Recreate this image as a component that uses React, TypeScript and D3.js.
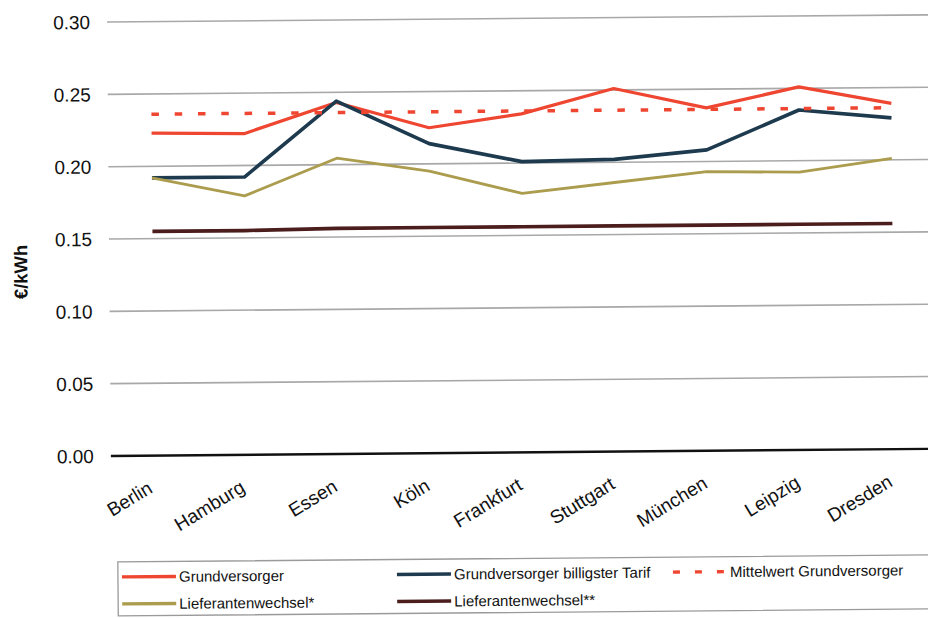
import React from "react";
import * as d3 from "d3";

// Strompreise je Stadt in €/kWh
const cities = ["Berlin", "Hamburg", "Essen", "Köln", "Frankfurt", "Stuttgart", "München", "Leipzig", "Dresden"];
const grundversorger = [0.223, 0.222, 0.243, 0.225, 0.234, 0.251, 0.237, 0.251, 0.239];
const billigsterTarif = [0.192, 0.192, 0.244, 0.214, 0.201, 0.202, 0.208, 0.235, 0.229];
const mittelwert = [0.236, 0.236, 0.236, 0.236, 0.236, 0.236, 0.236, 0.236, 0.236];
const wechselEinStern = [0.192, 0.179, 0.2045, 0.195, 0.179, 0.186, 0.193, 0.192, 0.201];
const wechselZweiStern = [0.155, 0.155, 0.156, 0.156, 0.156, 0.156, 0.156, 0.156, 0.156];

const yTicks = [0, 0.05, 0.1, 0.15, 0.2, 0.25, 0.3];
const yTickLabels = ["0.00", "0.05", "0.10", "0.15", "0.20", "0.25", "0.30"];

const FONT = "'Liberation Sans', Arial, Helvetica, sans-serif";

const series = [
  { name: "Grundversorger", values: grundversorger, color: "#ee4630", width: 3.2, dash: null },
  { name: "Grundversorger billigster Tarif", values: billigsterTarif, color: "#1d3a4e", width: 3.6, dash: null },
  { name: "Lieferantenwechsel*", values: wechselEinStern, color: "#ab9c4e", width: 2.8, dash: null },
  { name: "Lieferantenwechsel**", values: wechselZweiStern, color: "#4b1d1d", width: 3.6, dash: null },
  { name: "Mittelwert Grundversorger", values: mittelwert, color: "#ee4630", width: 3.5, dash: "7.5,15.8" },
];

const legendItems = [
  { name: "Grundversorger", row: 0, x: 119, color: "#ee4630", dash: null },
  { name: "Grundversorger billigster Tarif", row: 0, x: 394, color: "#1d3a4e", dash: null },
  { name: "Mittelwert Grundversorger", row: 0, x: 670, color: "#ee4630", dash: "7,15" },
  { name: "Lieferantenwechsel*", row: 1, x: 119, color: "#ab9c4e", dash: null },
  { name: "Lieferantenwechsel**", row: 1, x: 394, color: "#4b1d1d", dash: null },
];

export default function App() {
  const W = 928;
  const H = 618;

  const x = d3.scalePoint<string>().domain(cities).range([152.5, 892.5]);
  const y = d3.scaleLinear().domain([0, 0.3]).range([456, 22]);

  const gridLeft = 109;
  const gridRight = 960;

  const line = d3
    .line<number>()
    .x((_, i) => x(cities[i]) as number)
    .y((v) => y(v));

  return (
    <svg
      width={W}
      height={H}
      viewBox={`0 0 ${W} ${H}`}
      style={{ position: "absolute", left: 0, top: 0, background: "#fff" }}
    >
      <rect x={0} y={0} width={W} height={H} fill="#fff" />
      <g transform="rotate(-0.5 110 240)">
        {/* Gitterlinien und y-Achse */}
        {yTicks.map((t, i) => (
          <g key={t}>
            <line
              x1={gridLeft}
              x2={gridRight}
              y1={y(t)}
              y2={y(t)}
              stroke={t === 0 ? "#111" : "#a8a8a8"}
              strokeWidth={t === 0 ? 2.4 : 1.6}
            />
            <text
              x={92}
              y={y(t)}
              dy="0.36em"
              textAnchor="end"
              fontFamily={FONT}
              fontSize={19}
              fill="#111"
            >
              {yTickLabels[i]}
            </text>
          </g>
        ))}

        <text
          transform={`translate(27 ${(y(0.15) + y(0.1)) / 2 - 4}) rotate(-90)`}
          textAnchor="middle"
          fontFamily={FONT}
          fontWeight="bold"
          fontSize={18.5}
          fill="#111"
        >
          €/kWh
        </text>

        {/* Datenreihen */}
        {series.map((s) => (
          <path
            key={s.name}
            d={line(s.values) as string}
            fill="none"
            stroke={s.color}
            strokeWidth={s.width}
            strokeDasharray={s.dash ?? undefined}
            strokeLinejoin="round"
          />
        ))}

        {/* Städte */}
        {cities.map((c) => {
          const cx = (x(c) as number) - 1;
          const cy = 492;
          return (
            <text
              key={c}
              x={cx}
              y={cy}
              transform={`rotate(-31 ${cx} ${cy})`}
              textAnchor="end"
              fontFamily={FONT}
              fontSize={19}
              fill="#111"
            >
              {c}
            </text>
          );
        })}

        {/* Legende */}
        <rect x={115} y={562} width={900} height={54} fill="none" stroke="#9a9a9a" strokeWidth={1.3} />
        {legendItems.map((it) => {
          const cy = it.row === 0 ? 577 : 604;
          return (
            <g key={it.name}>
              <line
                x1={it.x}
                x2={it.x + 54}
                y1={cy}
                y2={cy}
                stroke={it.color}
                strokeWidth={3.4}
                strokeDasharray={it.dash ?? undefined}
              />
              <text
                x={it.x + 57}
                y={cy}
                dy="0.36em"
                fontFamily={FONT}
                fontSize={15}
                fill="#111"
              >
                {it.name}
              </text>
            </g>
          );
        })}
      </g>
    </svg>
  );
}
